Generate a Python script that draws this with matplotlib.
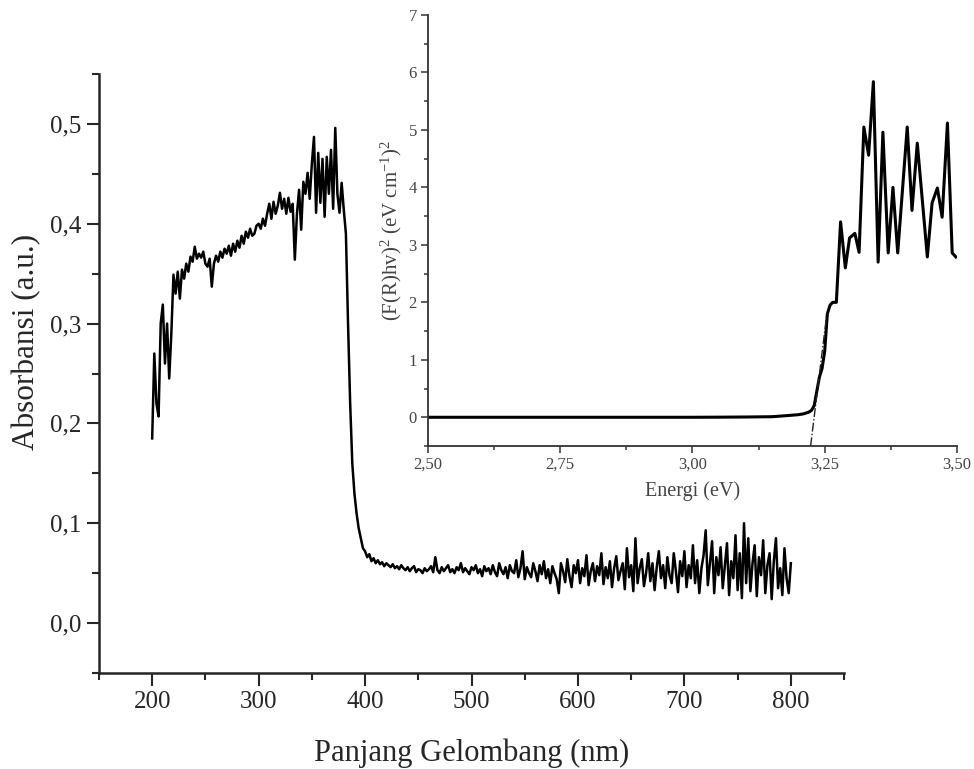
import numpy as np
import matplotlib
matplotlib.use("Agg")
from matplotlib import pyplot as plt
from matplotlib.ticker import MultipleLocator, FuncFormatter

plt.rcParams['font.family'] = ['Liberation Serif', 'DejaVu Serif']
plt.rcParams['mathtext.fontset'] = 'custom'
plt.rcParams['mathtext.rm'] = 'Liberation Serif'
plt.rcParams['mathtext.it'] = 'Liberation Serif:italic'

# spektrum UV-Vis, tiap 2 nm
wl = np.arange(200, 801, 2)
absorb = [
    0.185, 0.270, 0.220, 0.207, 0.300, 0.319, 0.260, 0.300, 0.245, 0.290,
    0.349, 0.330, 0.352, 0.325, 0.354, 0.345, 0.360, 0.352, 0.367, 0.362,
    0.377, 0.365, 0.370, 0.366, 0.372, 0.360, 0.357, 0.365, 0.337, 0.360,
    0.368, 0.362, 0.372, 0.366, 0.375, 0.370, 0.378, 0.368, 0.380, 0.372,
    0.383, 0.376, 0.388, 0.380, 0.392, 0.386, 0.395, 0.388, 0.390, 0.398,
    0.400, 0.395, 0.405, 0.398, 0.410, 0.420, 0.405, 0.422, 0.410, 0.418,
    0.431, 0.415, 0.425, 0.410, 0.426, 0.412, 0.420, 0.364, 0.410, 0.434,
    0.394, 0.442, 0.430, 0.451, 0.425, 0.460, 0.487, 0.411, 0.471, 0.421,
    0.465, 0.407, 0.467, 0.430, 0.474, 0.415, 0.496, 0.430, 0.411, 0.441,
    0.414, 0.390, 0.300, 0.220, 0.160, 0.130, 0.110, 0.095, 0.085, 0.075,
    0.072, 0.066, 0.069, 0.062, 0.065, 0.060, 0.063, 0.059, 0.061, 0.057,
    0.060, 0.058, 0.056, 0.059, 0.055, 0.057, 0.054, 0.058, 0.055, 0.053,
    0.056, 0.052, 0.055, 0.057, 0.051, 0.054, 0.053, 0.050, 0.055, 0.052,
    0.054, 0.057, 0.051, 0.066, 0.053, 0.050, 0.056, 0.052, 0.055, 0.058,
    0.051, 0.054, 0.050, 0.056, 0.053, 0.060, 0.051, 0.055, 0.052, 0.049,
    0.056, 0.053, 0.058, 0.050, 0.054, 0.047, 0.057, 0.052, 0.055, 0.049,
    0.058, 0.051, 0.047, 0.060, 0.053, 0.049, 0.056, 0.045, 0.058, 0.052,
    0.050, 0.063, 0.046, 0.055, 0.072, 0.044, 0.056, 0.050, 0.046, 0.060,
    0.052, 0.042, 0.058, 0.049, 0.062, 0.045, 0.054, 0.040, 0.057, 0.050,
    0.044, 0.030, 0.060, 0.052, 0.041, 0.064, 0.047, 0.036, 0.058, 0.050,
    0.063, 0.040, 0.055, 0.047, 0.068, 0.038, 0.052, 0.060, 0.042, 0.057,
    0.048, 0.070, 0.039, 0.056, 0.045, 0.062, 0.036, 0.055, 0.067, 0.043,
    0.052, 0.060, 0.034, 0.075, 0.046, 0.058, 0.032, 0.085, 0.040, 0.055,
    0.064, 0.037, 0.050, 0.070, 0.042, 0.060, 0.033, 0.056, 0.072, 0.045,
    0.058, 0.035, 0.066, 0.048, 0.040, 0.070, 0.052, 0.031, 0.062, 0.047,
    0.072, 0.036, 0.058, 0.045, 0.078, 0.040, 0.063, 0.030, 0.055, 0.068,
    0.093, 0.038, 0.060, 0.082, 0.030, 0.066, 0.048, 0.076, 0.035, 0.058,
    0.080, 0.028, 0.062, 0.045, 0.088, 0.033, 0.070, 0.025, 0.100, 0.040,
    0.085, 0.032, 0.060, 0.078, 0.027, 0.066, 0.048, 0.083, 0.030, 0.058,
    0.070, 0.024, 0.062, 0.085, 0.035, 0.055, 0.028, 0.075, 0.045, 0.030,
    0.060,
]

# plot Tauc
energi = [2.50, 2.60, 2.70, 2.80, 2.90, 3.00, 3.05, 3.10, 3.15, 3.18,
          3.20, 3.21, 3.22, 3.225, 3.23, 3.235, 3.24, 3.245, 3.25, 3.255,
          3.26, 3.265, 3.272, 3.280, 3.289, 3.297, 3.307, 3.315, 3.324, 3.333,
          3.342, 3.351, 3.360, 3.370, 3.379, 3.388, 3.406, 3.415, 3.425, 3.444,
          3.453, 3.463, 3.472, 3.482, 3.491, 3.498]
tauc = [0.0, 0.0, 0.0, 0.0, 0.0, 0.0, 0.002, 0.005, 0.01, 0.03,
        0.045, 0.06, 0.09, 0.12, 0.2, 0.45, 0.7, 0.85, 1.15, 1.8,
        1.95, 2.0, 2.0, 3.40, 2.60, 3.12, 3.20, 2.87, 5.05, 4.56,
        5.84, 2.70, 4.96, 2.86, 4.00, 2.86, 5.05, 3.60, 4.77, 2.79,
        3.73, 3.99, 3.48, 5.12, 2.86, 2.79]

# garis singgung untuk band gap
eg = 3.23
slope = 75.0
tan_e = [3.2233, 3.254]

main_col = '#262626'
ins_col = '#444444'


def koma(fmt):
    return FuncFormatter(lambda v, p: (fmt % v).replace('.', ','))


fig = plt.figure(figsize=(9.74, 7.69), dpi=100)

ax = fig.add_axes([0.1016, 0.1248, 0.765, 0.779])
ax.plot(wl, absorb, color='black', lw=1.8)
ax.set_xlim(150, 850)
ax.set_ylim(-0.05, 0.55)
ax.xaxis.set_major_locator(MultipleLocator(100))
ax.xaxis.set_minor_locator(MultipleLocator(50))
ax.yaxis.set_major_locator(MultipleLocator(0.1))
ax.yaxis.set_minor_locator(MultipleLocator(0.05))
ax.yaxis.set_major_formatter(koma('%.1f'))
for s in ['top', 'right']:
    ax.spines[s].set_visible(False)
for s in ['left', 'bottom']:
    ax.spines[s].set_linewidth(1.8)
    ax.spines[s].set_color(main_col)
ax.tick_params(which='major', direction='out', length=9, width=1.5,
               labelsize=18, colors=main_col, pad=4)
ax.tick_params(which='minor', direction='out', length=5, width=1.5, colors=main_col)
ax.set_xlabel('Panjang Gelombang (nm)', fontsize=22, color=main_col, labelpad=18)
ax.set_ylabel('Absorbansi (a.u.)', fontsize=22.5, color=main_col)
ax.yaxis.set_label_coords(-0.078, 0.553)

ins = fig.add_axes([0.4394, 0.42, 0.5431, 0.5605])
ins.patch.set_alpha(0)
ins.plot(energi, tauc, color='black', lw=2.2)
te = np.array(tan_e)
ins.plot(te, slope * (te - eg), color='#222222', lw=1.0, ls='-.')
ins.set_xlim(2.5, 3.5)
ins.set_ylim(-0.5, 7)
ins.xaxis.set_major_locator(MultipleLocator(0.25))
ins.xaxis.set_minor_locator(MultipleLocator(0.125))
ins.yaxis.set_major_locator(MultipleLocator(1))
ins.yaxis.set_minor_locator(MultipleLocator(0.5))
ins.xaxis.set_major_formatter(koma('%.2f'))
for s in ['top', 'right']:
    ins.spines[s].set_visible(False)
for s in ['left', 'bottom']:
    ins.spines[s].set_linewidth(1.3)
    ins.spines[s].set_color('#333333')
ins.tick_params(which='major', direction='out', length=5, width=1.2,
                labelsize=12, colors=ins_col, pad=3)
ins.tick_params(which='minor', direction='out', length=3, width=1.2, colors=ins_col)
ins.set_xlabel('Energi (eV)', fontsize=14.5, color=ins_col, labelpad=6)
ins.set_ylabel(r'(F(R)hv)$^2$ (eV cm$^{-1}$)$^2$', fontsize=15,
               color=ins_col, labelpad=3)

fig.savefig('out.png', dpi=100)
